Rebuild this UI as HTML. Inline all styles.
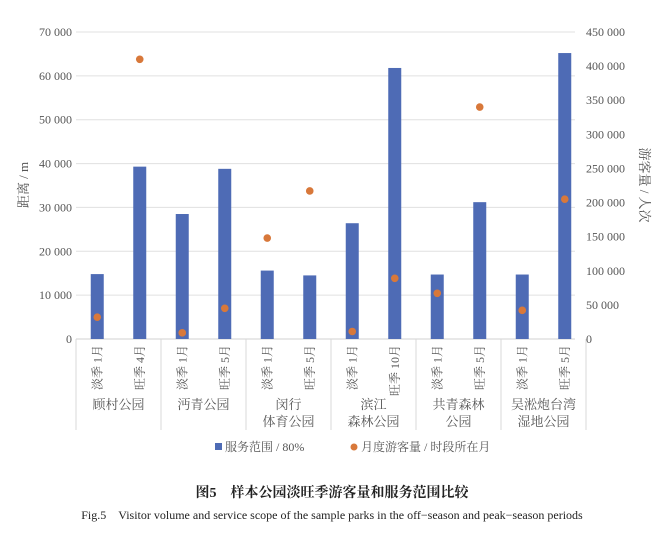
<!DOCTYPE html>
<html><head><meta charset="utf-8"><style>
body{margin:0;background:#fff;width:664px;height:529px;overflow:hidden;font-family:"Liberation Serif","Noto Serif CJK SC",serif}
text{font-family:"Liberation Serif","Noto Serif CJK SC",serif}
</style></head><body>
<svg id="c" width="664" height="529">
<text x="332" y="497" text-anchor="middle" font-size="14" font-weight="bold" fill="#222" font-family="Liberation Sans,Noto Sans CJK SC,sans-serif">图5　样本公园淡旺季游客量和服务范围比较</text>
<text x="332" y="519" text-anchor="middle" font-size="12" fill="#222">Fig.5　Visitor volume and service scope of the sample parks in the off−season and peak−season periods</text>
<text transform="translate(28,185) rotate(-90)" text-anchor="middle" font-size="13" fill="#555">距离 / m</text>
<text transform="translate(640,185) rotate(90)" text-anchor="middle" font-size="13" fill="#555">游客量 / 人次</text>
<rect x="215" y="443" width="7" height="7" fill="#4e6bb5"/>
<text x="225" y="451" font-size="12" fill="#555">服务范围 / 80%</text>
<circle cx="354" cy="447" r="3.5" fill="#d8783a"/>
<text x="361" y="451" font-size="12" fill="#555">月度游客量 / 时段所在月</text>
</svg>
<script>
const categories=["淡季 1月","旺季 4月","淡季 1月","旺季 5月","淡季 1月","旺季 5月","淡季 1月","旺季 10月","淡季 1月","旺季 5月","淡季 1月","旺季 5月"];
const groups=[["顾村公园"],["沔青公园"],["闵行","体育公园"],["滨江","森林公园"],["共青森林","公园"],["吴淞炮台湾","湿地公园"]];
const distance=[14800,39300,28500,38800,15600,14500,26400,61800,14700,31200,14700,65200];
const visitors=[32000,410000,9000,45000,148000,217000,11000,89000,67000,340000,42000,205000];
const leftTicks=[0,10000,20000,30000,40000,50000,60000,70000];
const rightTicks=[0,50000,100000,150000,200000,250000,300000,350000,400000,450000];
const svg=document.getElementById('c');const NS="http://www.w3.org/2000/svg";
const X0=76,X1=586,Y0=339,Y1=32;
const step=(X1-X0)/categories.length;
const xc=i=>X0+step*(i+0.5);
const yl=v=>Y0-(v/70000)*(Y0-Y1);
const yr=v=>Y0-(v/450000)*(Y0-Y1);
function mk(t,a,txt){const e=document.createElementNS(NS,t);for(const k in a)e.setAttribute(k,a[k]);if(txt!=null)e.textContent=txt;svg.appendChild(e);return e;}
const fmt=v=>v===0?"0":String(v).replace(/\B(?=(\d{3})+$)/g," ");
leftTicks.forEach(v=>{
 const g=mk('line',{x1:X0,x2:575,y1:yl(v),y2:yl(v),stroke:v===0?'#d0d0d0':'#e0e0e0','stroke-width':1});
 
 
 const t=mk('text',{x:72,y:yl(v)+4,'text-anchor':'end','font-size':12,fill:'#555'},fmt(v));
 
 
});
rightTicks.forEach(v=>{
 const t=mk('text',{x:586,y:yr(v)+4,'font-size':12,fill:'#555'},fmt(v));
 
 
});
distance.forEach((v,i)=>{
 const r=mk('rect',{x:xc(i)-6.5,y:yl(v),width:13,height:Y0-yl(v),fill:'#4e6bb5'});
 
 
});
visitors.forEach((v,i)=>{
 const c=mk('circle',{cx:xc(i),cy:yr(v),r:3.8,fill:'#d8783a'});
 
 
});
categories.forEach((c,i)=>{
 const t=mk('text',{transform:`translate(${xc(i)+4},${345}) rotate(-90)`,'text-anchor':'end','font-size':12,fill:'#555'},c);
 
 
});
for(let g=0;g<=groups.length;g++){
 const x=X0+step*2*g;
 const l=mk('line',{x1:x,x2:x,y1:Y0,y2:430,stroke:'#d8d8d8'});
 
 
}
groups.forEach((gl,g)=>{
 const cx=X0+step*(2*g+1);
 gl.forEach((s,j)=>{
  const t=mk('text',{x:cx,y:409+j*17,'text-anchor':'middle','font-size':13,fill:'#555'},s);
  
  
 });
});
</script>
</body></html>
